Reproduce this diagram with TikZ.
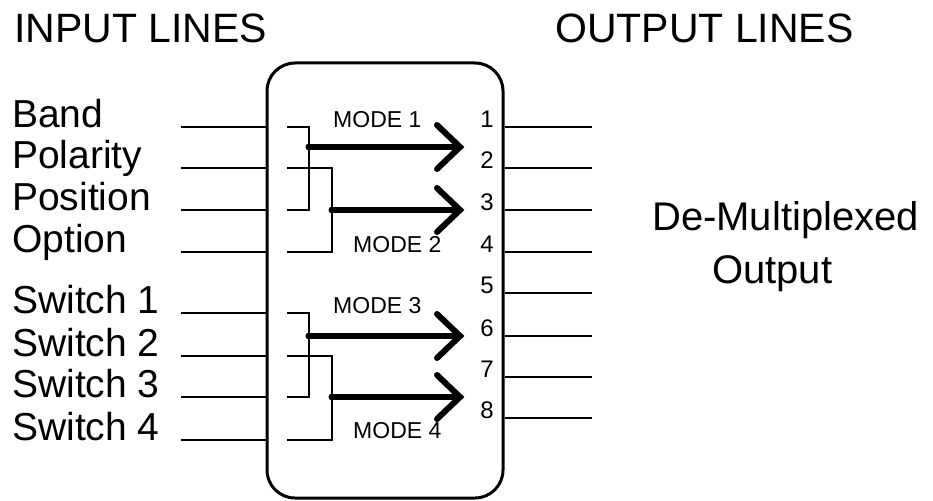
\documentclass[tikz,border=0pt]{standalone}
\usepackage{fontspec}
\setmainfont{Liberation Sans}
\begin{document}
\begin{tikzpicture}[x=1pt,y=-1pt,
  wire/.style={line width=2.4pt},
  boxline/.style={draw,line width=3pt,rounded corners=28pt,inner sep=0pt},
  thickarrow/.style={line width=6pt,line cap=round},
  chevron/.style={line width=6pt,line cap=round,line join=miter},
  title/.style={anchor=base west,font=\fontsize{41}{41}\selectfont},
  inlabel/.style={anchor=base west,font=\fontsize{39}{39}\selectfont},
  bigtext/.style={anchor=base west,font=\fontsize{40}{40}\selectfont},
  modelabel/.style={anchor=base west,font=\fontsize{23}{23}\selectfont,inner sep=0pt},
  numlabel/.style={anchor=base east,font=\fontsize{24}{24}\selectfont,inner sep=0pt}]
\useasboundingbox (0,0) rectangle (933,500);

% titles
\node[title,inner sep=0pt] (tin) at (14,43) {INPUT LINES};
\node[title,inner sep=0pt] (tout) at (555,43) {OUTPUT LINES};

% main box
\node[boxline,minimum width=236pt,minimum height=435pt] (mux) at (385,280.5) {};

% input lines
\foreach \y/\t [count=\i] in {127/Band,168/Polarity,210/Position,252/Option,313/Switch 1,356/Switch 2,397/Switch 3,440/Switch 4}{
  \node[inlabel,inner sep=0pt] (lab\i) at (12,\y) {\t};
  \coordinate (in\i) at (181,\y);
  \coordinate (inb\i) at (mux.west |- 0,\y);
  \coordinate (st\i) at (287,\y);
  \draw[wire] (in\i) -- (inb\i);
}

% internal routing, group 1
\draw[wire] (st1) -| (309,210) -- (st3);
\draw[wire] (st2) -| (332,252) -- (st4);
% internal routing, group 2
\draw[wire] (st5) -| (309,397) -- (st7);
\draw[wire] (st6) -| (332,440) -- (st8);

% arrows
\foreach \y/\x [count=\k] in {147/309,210/332,336/309,397/332}{
  \coordinate (as\k) at (\x,\y);
  \coordinate (at\k) at (460,\y);
  \fill (as\k) circle (3.5pt);
  \draw[thickarrow] (as\k) -- (at\k);
  \draw[chevron] (437,\y-22) -- (at\k) -- (437,\y+22);
}

% mode labels
\node[modelabel] (m1) at (333,127) {MODE 1};
\node[modelabel] (m2) at (353,252) {MODE 2};
\node[modelabel] (m3) at (333,313) {MODE 3};
\node[modelabel] (m4) at (353,438) {MODE 4};

% output lines
\foreach \y [count=\j] in {127,168,210,252,293,336,377,418}{
  \coordinate (ob\j) at (mux.east |- 0,\y);
  \coordinate (out\j) at (592,\y);
  \draw[wire] (ob\j) -- (out\j);
  \node[numlabel] (n\j) at (494,\y) {\j};
}

% right text
\node[bigtext,inner sep=0pt] (dm) at (652,230) {De-Multiplexed};
\node[bigtext,inner sep=0pt] (op) at (712,283) {Output};
\end{tikzpicture}
\end{document}
